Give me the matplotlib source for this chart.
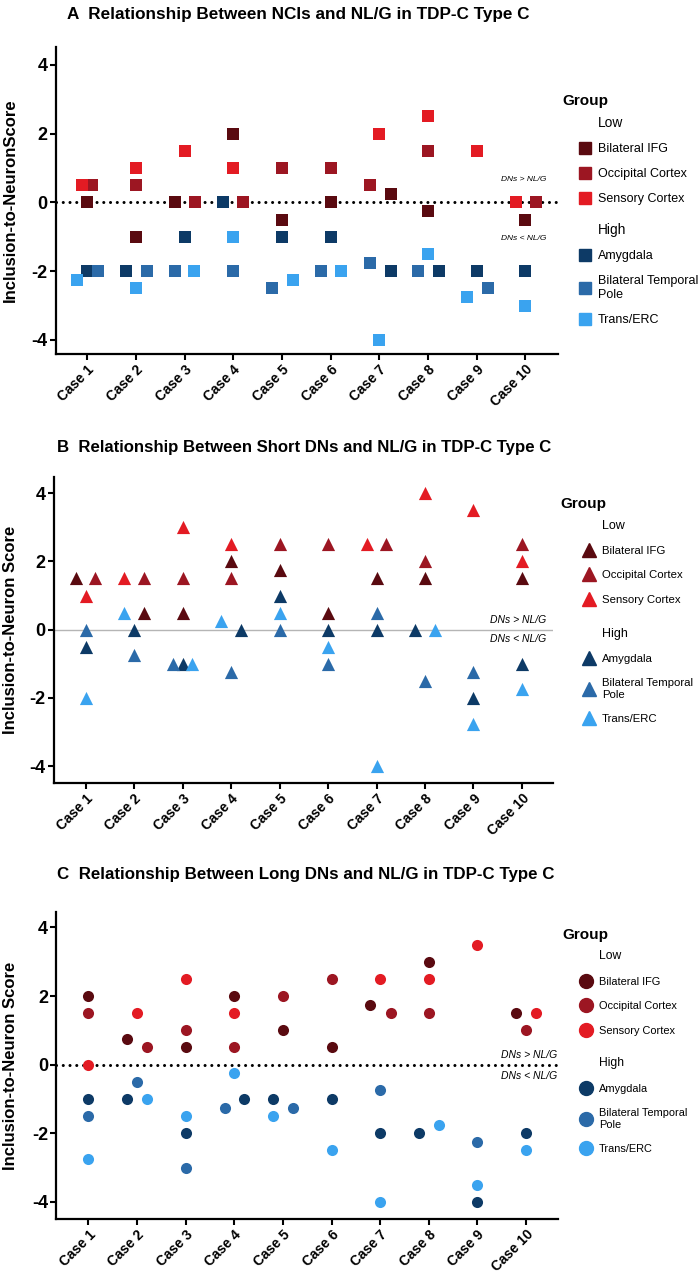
import matplotlib
matplotlib.use("Agg")
import matplotlib.pyplot as plt
from matplotlib.lines import Line2D
import numpy as np

plt.rcParams['font.family'] = ['Liberation Sans', 'DejaVu Sans']

nan = np.nan
cases = ["Case %d" % i for i in range(1, 11)]
groups = ["Bilateral IFG", "Occipital Cortex", "Sensory Cortex",
          "Amygdala", "Bilateral Temporal\nPole", "Trans/ERC"]
colors = ["#5a0a10", "#9c1622", "#e31b23", "#0d3a66", "#2b6aa8", "#3aa3ef"]

# panel A - NCIs
nci_ifg = [0, -1, 0, 2, -0.5, 0, 0.25, -0.25, nan, -0.5]
nci_occ = [0.5, 0.5, 0, 0, 1, 1, 0.5, 1.5, nan, 0]
nci_sens = [0.5, 1, 1.5, 1, nan, nan, 2, 2.5, 1.5, 0]
nci_amy = [-2, -2, -1, 0, -1, -1, -2, -2, -2, -2]
nci_btp = [-2, -2, -2, -2, -2.5, -2, -1.75, -2, -2.5, nan]
nci_trans = [-2.25, -2.5, -2, -1, -2.25, -2, -4, -1.5, -2.75, -3]
# horizontal nudges used in the original so points don't overlap
nci_dx = [[0, 0, -0.2, 0, 0, 0, 0.24, 0, 0, 0],
          [0.1, 0, 0.22, 0.2, 0, 0, -0.2, 0, 0, 0.22],
          [-0.1, 0, 0, 0, 0, 0, 0, 0, 0, -0.2],
          [0, -0.2, 0, -0.2, 0, 0, 0.23, 0.23, 0, 0],
          [0.23, 0.22, -0.2, 0, -0.2, -0.2, -0.2, -0.2, 0.23, 0],
          [-0.2, 0, 0.2, 0, 0.23, 0.22, 0, 0, -0.2, 0]]

# panel B - short DNs
sdn_ifg = [1.5, 0.5, 0.5, 2, 1.75, 0.5, 1.5, 1.5, nan, 1.5]
sdn_occ = [1.5, 1.5, 1.5, 1.5, 2.5, 2.5, 2.5, 2, nan, 2.5]
sdn_sens = [1, 1.5, 3, 2.5, nan, nan, 2.5, 4, 3.5, 2]
sdn_amy = [-0.5, 0, -1, 0, 1, 0, 0, 0, -2, -1]
sdn_btp = [0, -0.75, -1, -1.25, 0, -1, 0.5, -1.5, -1.25, nan]
sdn_trans = [-2, 0.5, -1, 0.25, 0.5, -0.5, -4, 0, -2.75, -1.75]
sdn_dx = [[-0.2, 0.2, 0, 0, 0, 0, 0, 0, 0, 0],
          [0.2, 0.2, 0, 0, 0, 0, 0.2, 0, 0, 0],
          [0, -0.2, 0, 0, 0, 0, -0.2, 0, 0, 0],
          [0, 0, 0, 0.2, 0, 0, 0, -0.2, 0, 0],
          [0, 0, -0.2, 0, 0, 0, 0, 0, 0, 0],
          [0, -0.2, 0.2, -0.2, 0, 0, 0, 0.2, 0, 0]]

# panel C - long DNs
ldn_ifg = [2, 0.75, 0.5, 2, 1, 0.5, 1.75, 3, nan, 1.5]
ldn_occ = [1.5, 0.5, 1, 0.5, 2, 2.5, 1.5, 1.5, nan, 1]
ldn_sens = [0, 1.5, 2.5, 1.5, nan, nan, 2.5, 2.5, 3.5, 1.5]
ldn_amy = [-1, -1, -2, -1, -1, -1, -2, -2, -4, -2]
ldn_btp = [-1.5, -0.5, -3, -1.25, -1.25, nan, -0.75, nan, -2.25, nan]
ldn_trans = [-2.75, -1, -1.5, -0.25, -1.5, -2.5, -4, -1.75, -3.5, -2.5]
ldn_dx = [[0, -0.2, 0, 0, 0, 0, -0.2, 0, 0, -0.2],
          [0, 0.2, 0, 0, 0, 0, 0.22, 0, 0, 0],
          [0, 0, 0, 0, 0, 0, 0, 0, 0, 0.2],
          [0, -0.2, 0, 0.2, -0.2, 0, 0, -0.2, 0, 0],
          [0, 0, 0, -0.2, 0.2, 0, 0, 0, 0, 0],
          [0, 0.2, 0, 0, -0.2, 0, 0, 0.22, 0, 0]]

fig = plt.figure(figsize=(7, 12.77), dpi=100)
W, H = 700, 1277


def px_axes(left, right, top, bottom):
    return fig.add_axes([left / W, 1 - bottom / H, (right - left) / W, (bottom - top) / H])


def fig_xy(px, py):
    return (px / W, 1 - py / H)


def draw_panel(ax, series, offsets, marker, msize, title_px, title, title_size, ylabel,
               zero_style, dn_x, dn_y, dn_size, xlim, ylim, leg, leg_msize, leg_fs):
    x = np.arange(1, 11)
    for vals, dx, c in zip(series, offsets, colors):
        vals = np.array(vals, dtype=float)
        ok = ~np.isnan(vals)
        ax.scatter((x + np.array(dx))[ok], vals[ok], marker=marker, s=msize,
                   color=c, linewidths=0, zorder=3)

    if zero_style == "dots":
        ax.axhline(0, color="black", lw=2.2, linestyle=(0, (0.01, 2.2)),
                   dash_capstyle="round", zorder=2)
    else:
        ax.axhline(0, color="#b5b5b5", lw=1.0, zorder=2)

    tr = ax.get_yaxis_transform()
    ax.text(dn_x, dn_y[0], "DNs > NL/G", transform=tr, ha="right", va="center",
            style="italic", fontsize=dn_size)
    ax.text(dn_x, dn_y[1], "DNs < NL/G", transform=tr, ha="right", va="center",
            style="italic", fontsize=dn_size)

    ax.set_xlim(*xlim)
    ax.set_ylim(*ylim)
    ax.set_xticks(x)
    ax.set_xticklabels(cases, rotation=45, ha="right", rotation_mode="anchor",
                       fontsize=10, fontweight="bold")
    ax.set_yticks([-4, -2, 0, 2, 4])
    ax.set_yticklabels(["-4", "-2", "0", "2", "4"], fontsize=13, fontweight="bold")
    ax.tick_params(width=1.5, length=4, pad=2)
    for side in ["top", "right"]:
        ax.spines[side].set_visible(False)
    for side in ["left", "bottom"]:
        ax.spines[side].set_linewidth(1.6)

    ax.set_ylabel(ylabel, fontsize=12, fontweight="bold")
    ax_left = ax.get_position().x0 * W
    ax_w = ax.get_position().width * W
    ax.yaxis.set_label_coords((18 - ax_left) / ax_w, 0.5)

    fig.text(*fig_xy(*title_px), title, fontsize=title_size, fontweight="bold",
             va="center", ha="left")

    # legend: "Group" header, then a Low block and a High block
    gx, gy, hx, low_top, high_top = leg
    fig.text(*fig_xy(gx, gy), "Group", fontsize=11, fontweight="bold", va="center")
    fs_px = leg_fs * 100 / 72
    for blk, top in ((0, low_top), (1, high_top)):
        handles = [Line2D([], [], ls="", marker="")]
        for c in colors[3 * blk:3 * blk + 3]:
            handles.append(Line2D([], [], ls="", marker=marker, color=c,
                                  markersize=leg_msize))
        labels = [["Low", "High"][blk]] + groups[3 * blk:3 * blk + 3]
        lg = fig.legend(handles, labels, loc="upper left", bbox_to_anchor=fig_xy(hx, top),
                        bbox_transform=fig.transFigure, frameon=False, fontsize=leg_fs,
                        labelspacing=18.0 / leg_fs - 0.95,
                        handletextpad=7 / fs_px, handlelength=12 / fs_px,
                        borderpad=0, borderaxespad=0)
        lg.get_texts()[0].set_fontsize(leg_fs * 1.1)


axA = px_axes(56, 558, 47, 354)
draw_panel(axA, [nci_ifg, nci_occ, nci_sens, nci_amy, nci_btp, nci_trans], nci_dx,
           "s", 80, (67, 14), "A  Relationship Between NCIs and NL/G in TDP-C Type C", 12.3,
           "Inclusion-to-NeuronScore", "dots", 0.976, (0.66, -1.04), 6,
           (0.36, 10.67), (-4.41, 4.52), (562, 101, 579, 116, 223), 9, 9)

axB = px_axes(53.6, 553, 477, 783)
draw_panel(axB, [sdn_ifg, sdn_occ, sdn_sens, sdn_amy, sdn_btp, sdn_trans], sdn_dx,
           "^", 90, (57, 448), "B  Relationship Between Short DNs and NL/G in TDP-C Type C", 12.1,
           "Inclusion-to-Neuron Score", "solid", 0.986, (0.29, -0.26), 7.5,
           (0.34, 10.64), (-4.49, 4.47), (560, 504, 583, 520, 628), 10, 8.2)

axC = px_axes(56.4, 558, 912, 1219)
draw_panel(axC, [ldn_ifg, ldn_occ, ldn_sens, ldn_amy, ldn_btp, ldn_trans], ldn_dx,
           "o", 64, (57, 875), "C  Relationship Between Long DNs and NL/G in TDP-C Type C", 12.2,
           "Inclusion-to-Neuron Score", "dots", 0.998, (0.27, -0.32), 7.5,
           (0.34, 10.66), (-4.5, 4.45), (562, 935, 580, 950, 1057), 10, 7.9)

fig.savefig("out.png", dpi=100)
